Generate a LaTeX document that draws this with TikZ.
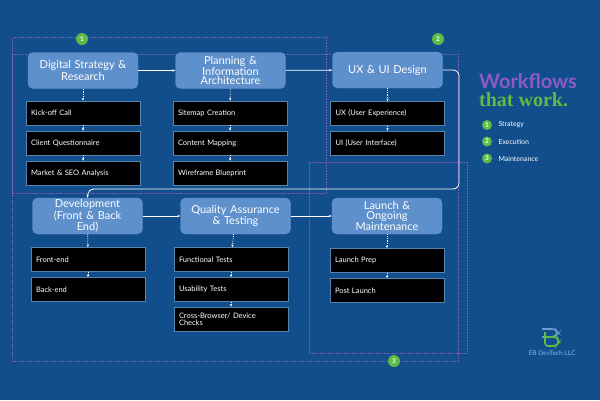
\documentclass[tikz,border=0pt]{standalone}
\usepackage{fontspec}
\setmainfont{Lato}
\usetikzlibrary{arrows.meta}
\definecolor{bg}{HTML}{124E8C}
\definecolor{mbox}{HTML}{5E90CC}
\definecolor{grp}{HTML}{7A5FB8}
\definecolor{gr}{HTML}{5DBB46}
\definecolor{pu}{HTML}{8E5BC4}
\begin{document}
\begin{tikzpicture}[x=1pt,y=-1pt,
 main/.style={fill=mbox,draw=mbox,rounded corners=5pt,minimum width=110pt,minimum height=36pt,text width=106pt,align=center,text=white,font=\fontsize{11}{9.5}\selectfont,inner sep=1pt},
 sub/.style={fill=black,draw=bg!70!white,minimum width=114pt,minimum height=24pt,text width=104pt,align=left,text=white,font=\fontsize{7.5}{7}\selectfont,inner sep=2pt},
 grpbox/.style={draw=grp,densely dotted,line width=0.6pt},
 badge/.style={circle,fill=gr,text=white,inner sep=0pt,minimum size=12pt,font=\bfseries\fontsize{6.5}{6}\selectfont},
 flow/.style={draw=white,line width=0.8pt,-{Stealth[length=3pt]}},
 dflow/.style={draw=white,densely dotted,line width=0.8pt,-{Stealth[length=3pt]}}]
\fill[bg] (0,0) rectangle (600,400);
\useasboundingbox (0,0) rectangle (600,400);
% groups
\draw[grpbox] (12,37) rectangle (326,193);
\draw[grpbox] (12,54) rectangle (458,361);
\draw[grpbox] (309,162) rectangle (467,353);
\node[badge] (b1) at (82,39) {1};
\node[badge] (b2) at (438,39) {2};
\node[badge] (b3) at (394,361) {3};
% main boxes
\node[main] (dsr) at (83,70.5) {Digital Strategy \&\\Research};
\node[main] (pia) at (230.5,70.5) {Planning \&\\Information\\Architecture};
\node[main] (ux) at (387.5,70) {UX \& UI Design};
\node[main] (dev) at (87.5,216) {Development\\(Front \& Back\\End)};
\node[main] (qa) at (235.5,216) {Quality Assurance\\\& Testing};
\node[main] (ln) at (387,216) {Launch \&\\Ongoing\\Maintenance};
% subs
\node[sub] (a1) at (83,113) {Kick-off Call};
\node[sub] (a2) at (83,143) {Client Questionnaire};
\node[sub] (a3) at (83,173) {Market \& SEO Analysis};
\node[sub] (p1) at (230,113) {Sitemap Creation};
\node[sub] (p2) at (230,143) {Content Mapping};
\node[sub] (p3) at (230,173) {Wireframe Blueprint};
\node[sub] (u1) at (387.5,113.5) {UX (User Experience)};
\node[sub] (u2) at (387.5,143) {UI (User Interface)};
\node[sub] (d1) at (88,259.5) {Front-end};
\node[sub] (d2) at (88,289.5) {Back-end};
\node[sub] (q1) at (231,259.5) {Functional Tests};
\node[sub] (q2) at (231,289.5) {Usability Tests};
\node[sub] (q3) at (231,319) {Cross-Browser/ Device\\Checks};
\node[sub] (l1) at (387,260.5) {Launch Prep};
\node[sub] (l2) at (387,290.5) {Post Launch};
% flows
\draw[flow] (dsr) -- (pia);
\draw[flow] (pia) -- (ux);
\draw[flow] (dev) -- (qa);
\draw[flow] (qa) -- (ln);
\coordinate (t1) at (459,70);
\coordinate (t2) at (459,189);
\coordinate (t3) at (88,189);
\draw[flow,rounded corners=6pt] (ux.east) -- (t1) -- (t2) -- (t3) -- (dev.north);
\foreach \a/\b in {dsr/a1,a1/a2,a2/a3,pia/p1,p1/p2,p2/p3,ux/u1,u1/u2,dev/d1,d1/d2,qa/q1,q1/q2,q2/q3,ln/l1,l1/l2}
  \draw[dflow] (\a) -- (\b);
% right panel
\node[anchor=west,text=pu,font=\bfseries\fontsize{20}{20}\selectfont,inner sep=0] (wf) at (479,81) {Workflows};
\node[anchor=west,text=gr,font=\fontspec{Liberation Serif}\bfseries\fontsize{20}{20}\selectfont,inner sep=0] (tw) at (479,100) {that work.};
\node[badge,minimum size=10pt] (k1) at (487,125) {1};
\node[badge,minimum size=10pt] (k2) at (487,141.5) {2};
\node[badge,minimum size=10pt] (k3) at (487,158.5) {3};
\node[anchor=west,text=white,font=\fontsize{7}{6}\selectfont] (s1) at (495,125) {Strategy};
\node[anchor=west,text=white,font=\fontsize{7}{6}\selectfont] (s2) at (495,141.5) {Execution};
\node[anchor=west,text=white,font=\fontsize{7}{6}\selectfont] (s3) at (495,158.5) {Maintenance};
% logo
\draw[mbox!90!white,line width=1.6pt,rounded corners=3pt] (542,329) -- (555,329) -- (558,333) -- (554,337) -- (542,337);
\draw[gr,line width=1.6pt,rounded corners=3pt] (545,337) -- (557,337) -- (559,342) -- (556,346) -- (545,346) -- (545,332);
\node[text=mbox!90!white,font=\bfseries\fontsize{6.5}{6}\selectfont] (logo) at (552,353) {EB DevTech LLC};
\end{tikzpicture}
\end{document}
